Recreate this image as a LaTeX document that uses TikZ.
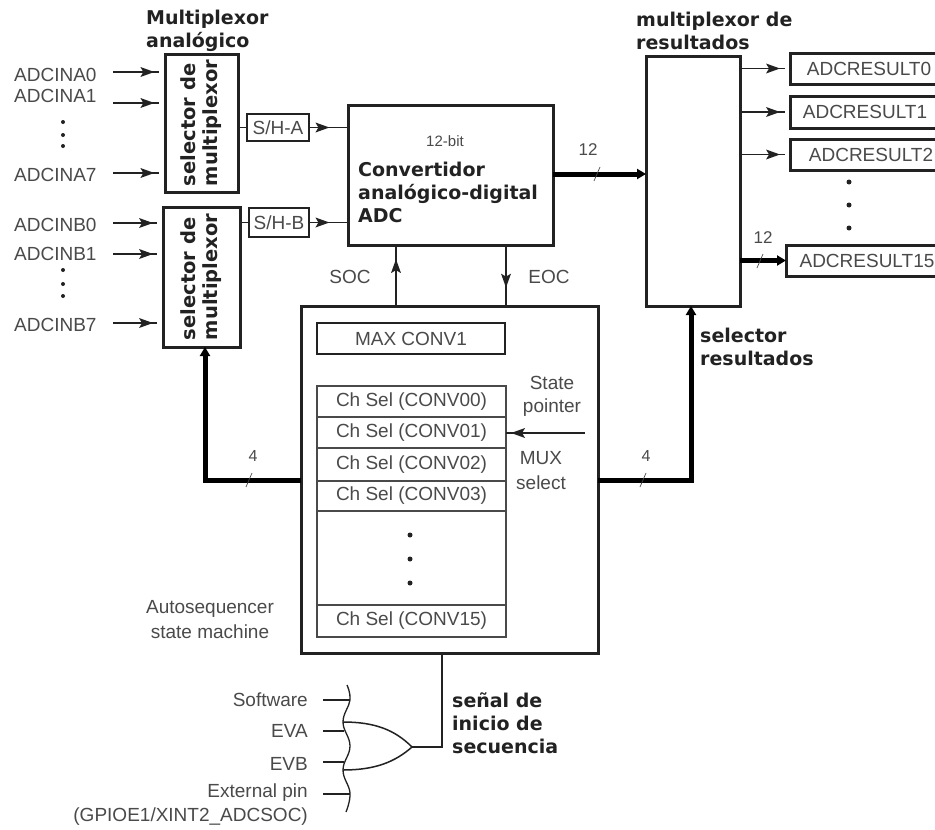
\documentclass[tikz,border=0pt]{standalone}
\usepackage{fontspec}
\setmainfont{Liberation Sans}
\newfontfamily\boldlab{DejaVu Sans}[BoldFont={DejaVu Sans Bold}]
\usetikzlibrary{arrows.meta,decorations.markings}
\definecolor{ink}{HTML}{222222}
\definecolor{lab}{HTML}{4A4A4A}
\tikzset{
  x=1pt,y=-1pt,
  boxa/.style={draw=ink,line width=3pt,anchor=north west,inner sep=0pt,outer sep=0pt,fill=white},
  boxb/.style={draw=ink,line width=1.5pt,anchor=north west,inner sep=0pt,outer sep=0pt,fill=white},
  cell/.style={draw=lab,line width=1.1pt,anchor=north west,inner sep=0pt,outer sep=0pt,minimum width=189pt},
  txt/.style={text=lab,inner sep=0pt,font=\fontsize{19}{22}\selectfont},
  blab/.style={text=ink,inner sep=0pt,anchor=west,align=left,font=\boldlab\bfseries\fontsize{19}{23}\selectfont},
  rlab/.style={text=ink,inner sep=0pt,align=left,rotate=90,font=\boldlab\bfseries\fontsize{19.5}{22}\selectfont},
  wire/.style={draw=ink,line width=1.2pt},
  thick wire/.style={draw=black,line width=5pt},
  midtip/.style={postaction={decorate},decoration={markings,mark=at position #1 with {\fill[ink] (-8pt,-5pt) -- (6pt,0pt) -- (-8pt,5pt) -- (-5pt,0pt) -- cycle;}}},
  fat tip/.style={-{Triangle[length=9pt,width=10pt]}},
  tick/.style={draw=lab,line width=.7pt},
  dotm/.style={circle,fill=ink,inner sep=0pt,minimum size=5pt}
}
\begin{document}
\begin{tikzpicture}
\clip (0,0) rectangle (935,830);
\fill[white] (0,0) rectangle (935,830);
% boxes
\node[boxa,minimum width=73pt,minimum height=138pt] (muxA) at (165,54) {};
\node[boxa,minimum width=77pt,minimum height=140pt] (muxB) at (163,207) {};
\node[rlab] at (muxA.center) {selector de\\multiplexor};
\node[rlab] at (muxB.center) {selector de\\multiplexor};
\node[boxb,txt,minimum width=62pt,minimum height=27pt] (sha) at (247,114) {S/H-A};
\node[boxb,txt,minimum width=60pt,minimum height=29pt] (shb) at (249,208) {S/H-B};
\node[boxa,minimum width=205pt,minimum height=140pt] (adc) at (348,105) {};
\node[boxa,minimum width=297pt,minimum height=347pt] (main) at (301,306) {};
\node[boxb,txt,minimum width=188pt,minimum height=31pt] (maxc) at (317,323) {MAX CONV1};
\node[cell,txt,minimum height=31pt] (c0) at (317,386) {Ch Sel (CONV00)};
\node[cell,txt,minimum height=31pt] (c1) at (317,417) {Ch Sel (CONV01)};
\node[cell,txt,minimum height=33pt] (c2) at (317,448) {Ch Sel (CONV02)};
\node[cell,txt,minimum height=30pt] (c3) at (317,481) {Ch Sel (CONV03)};
\node[cell,minimum height=94pt] (cx) at (317,511) {};
\node[cell,txt,minimum height=32pt] (c15) at (317,605) {Ch Sel (CONV15)};
\node[boxa,minimum width=94pt,minimum height=250pt] (rmux) at (646,56) {};
\node[boxa,txt,minimum width=158pt,minimum height=31pt] (r0) at (790,53) {ADCRESULT0};
\node[boxa,txt,minimum width=150pt,minimum height=32pt] (r1) at (790,96) {ADCRESULT1};
\node[boxa,txt,minimum width=162pt,minimum height=31pt] (r2) at (790,139) {ADCRESULT2};
\node[boxa,txt,minimum width=162pt,minimum height=31pt] (r15) at (786,245) {ADCRESULT15};
% bold labels
\node[blab] at (146,31) {Multiplexor\\analógico};
\node[blab] at (636,31) {multiplexor de\\resultados};
\node[blab] at (358,192) {Convertidor\\analógico-digital\\ADC};
\node[blab] at (700,347) {selector\\resultados};
\node[blab] at (452,723) {señal de\\inicio de\\secuencia};
% inputs
\foreach \n/\t/\ly/\wy in {a0/ADCINA0/75/72,a1/ADCINA1/96/103,a7/ADCINA7/175/173}{
  \node[txt,anchor=west] (t\n) at (14,\ly) {\t};
  \coordinate (i\n) at (113,\wy);
  \draw[wire,midtip=.68,shorten >=6pt] (i\n) -- (i\n -| muxA.west);
}
\foreach \n/\t/\ly/\wy in {b0/ADCINB0/225/223,b1/ADCINB1/254/254,b7/ADCINB7/325/323}{
  \node[txt,anchor=west] (t\n) at (14,\ly) {\t};
  \coordinate (i\n) at (113,\wy);
  \draw[wire,midtip=.68,shorten >=6pt] (i\n) -- (i\n -| muxB.west);
}
\foreach \y in {122,135,146,270,284,296}{\node[dotm,minimum size=4pt] at (63,\y) {};}
\foreach \y in {182,205,228}{\node[dotm] at (849,\y) {};}
\foreach \y in {535,559,583}{\node[dotm] at (410,\y) {};}
% sample and hold
\draw[wire] (muxA.east |- sha.west) -- (sha.west);
\draw[wire] (muxB.east |- shb.west) -- (shb.west);
\draw[wire,midtip=.37] (sha.east) -- (sha.east -| adc.west);
\draw[wire,midtip=.37] (shb.east) -- (shb.east -| adc.west);
% adc to result mux
\coordinate (adcout) at (553,174);
\draw[thick wire,fat tip] (adcout) -- (adcout -| rmux.west);
\draw[tick] (594,181) -- (600,167);
\node[txt,font=\fontsize{17}{18}\selectfont] at (588,150) {12};
\node[txt,font=\fontsize{15}{16}\selectfont] at (445,141) {12-bit};
% result outputs
\foreach \b in {r0,r1,r2}{
  \draw[wire,midtip=.68,shorten >=5pt] (rmux.east |- \b.west) -- (\b.west);
}
\draw[thick wire,fat tip] (rmux.east |- r15.west) -- (r15.west);
\draw[tick] (757,268) -- (763,254);
\node[txt,font=\fontsize{17}{18}\selectfont] at (763,238) {12};
% SOC EOC
\coordinate (socb) at (396,306);
\coordinate (eocb) at (506,245);
\draw[wire,midtip=.67] (socb) -- (socb |- adc.south);
\draw[wire,midtip=.6] (eocb) -- (eocb |- main.north);
\node[txt] at (350,277) {SOC};
\node[txt] at (549,277) {EOC};
% state pointer
\coordinate (sp) at (585,433);
\draw[wire,midtip=.86] (sp) -- (c1.east |- sp);
\node[txt] at (552,383) {State};
\node[txt] at (552,408) {pointer};
\node[txt] at (541,458) {MUX};
\node[txt] at (541,483) {select};
\node[txt,align=center,font=\fontsize{19}{25}\selectfont] at (210,620) {Autosequencer\\state machine};
% thick selects
\coordinate (sl) at (205,480);
\coordinate (sr) at (691,480);
\draw[thick wire,fat tip] (main.west |- sl) -- (sl) -- (sl |- muxB.south);
\draw[thick wire,fat tip] (main.east |- sr) -- (sr) -- (sr |- rmux.south);
\draw[tick] (246,487) -- (252,473);
\draw[tick] (640,487) -- (646,473);
\node[txt,font=\fontsize{16}{16}\selectfont] at (253,456) {4};
\node[txt,font=\fontsize{16}{16}\selectfont] at (646,456) {4};
% or gate
\draw[wire,line width=1.3pt] plot[smooth,tension=.7] coordinates {(347,685) (350,700) (343,722) (350,746) (343,770) (350,793) (346,812)};
\coordinate (gout) at (412,747);
\draw[wire,line width=1.5pt] (343,722) .. controls (375,722) and (395,730) .. (gout) .. controls (395,762) and (375,770) .. (343,770);
\draw[wire] (gout) -| (main.south -| 442,0);
\coordinate (g1) at (350,700);
\coordinate (g2) at (344,731);
\coordinate (g3) at (344,762);
\coordinate (g4) at (350,794);
\node[txt,anchor=east] (soft) at (308,700) {Software};
\node[txt,anchor=east] (eva) at (308,731) {EVA};
\node[txt,anchor=east] (evb) at (308,764) {EVB};
\node[txt,anchor=east] (ext) at (308,793) {External pin};
\node[txt,anchor=east] at (308,817) {(GPIOE1/XINT2\_ADCSOC)};
\draw[wire] (323,700) -- (g1);
\draw[wire] (323,731) -- (g2);
\draw[wire] (323,762) -- (g3);
\draw[wire] (323,794) -- (g4);
\end{tikzpicture}
\end{document}
